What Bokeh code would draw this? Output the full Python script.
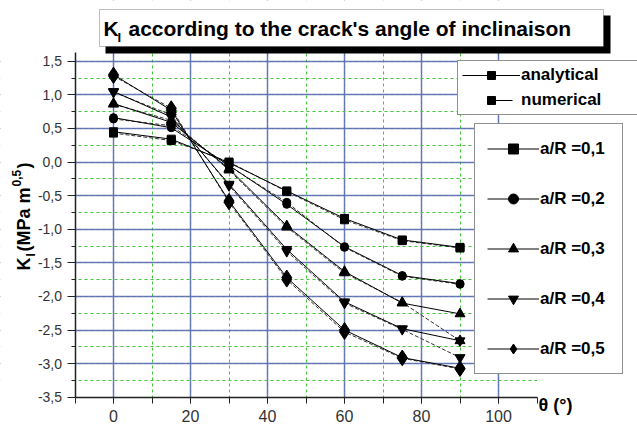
import math
from bokeh.plotting import figure
from bokeh.models import (Range1d, SingleIntervalTicker, CustomJSTickFormatter,
                          Legend, LegendItem, Label, BoxAnnotation)
from bokeh.embed import file_html
from bokeh.resources import INLINE

# ---------------- data ----------------
theta = [0, 15, 30, 45, 60, 75, 90]
ratio_labels = ["a/R =0,1", "a/R =0,2", "a/R =0,3", "a/R =0,4", "a/R =0,5"]

analytical_01 = [0.45, 0.34, -0.01, -0.43, -0.84, -1.16, -1.27]
analytical_02 = [0.66, 0.51, -0.05, -0.63, -1.26, -1.69, -1.81]
analytical_03 = [0.87, 0.59, -0.10, -0.95, -1.63, -2.10, -2.26]
analytical_04 = [1.05, 0.67, -0.33, -1.30, -2.08, -2.48, -2.66]
analytical_05 = [1.30, 0.77, -0.58, -1.72, -2.50, -2.91, -3.07]

numerical_01 = [0.43, 0.32, 0.00, -0.44, -0.86, -1.17, -1.28]
numerical_02 = [0.64, 0.54, -0.06, -0.60, -1.27, -1.70, -1.82]
numerical_03 = [0.86, 0.62, -0.12, -0.97, -1.65, -2.09, -2.66]
numerical_04 = [1.04, 0.70, -0.35, -1.33, -2.10, -2.49, -2.91]
numerical_05 = [1.28, 0.80, -0.60, -1.75, -2.53, -2.92, -3.08]

analytical = [analytical_01, analytical_02, analytical_03, analytical_04, analytical_05]
numerical = [numerical_01, numerical_02, numerical_03, numerical_04, numerical_05]

# axis extents
X_AXIS = (-10, 110)
Y_AXIS = (-3.5, 1.63)

# ---------------- layout (frame = whole canvas) ----------------
W, H = 637, 428
SX, SY = 3.85, 67.2                 # px per data unit
X0 = X_AXIS[0] - 74.5 / SX          # canvas left edge in data units
X1 = X0 + W / SX
Y0 = Y_AXIS[0] - (H - 396.7) / SY   # canvas bottom edge in data units
Y1 = Y0 + H / SY


def dx(px):
    return X0 + px / SX


def dy(py):
    return Y1 - py / SY


p = figure(width=W, height=H, x_range=Range1d(X0, X1), y_range=Range1d(Y0, Y1),
           output_backend="svg", toolbar_location=None,
           min_border_left=0, min_border_right=0, min_border_top=0, min_border_bottom=0)
p.outline_line_color = None
p.background_fill_color = "white"
p.border_fill_color = "white"

xt = SingleIntervalTicker(interval=20, num_minor_ticks=2)
yt = SingleIntervalTicker(interval=0.5, num_minor_ticks=2)
p.xaxis.ticker = xt
p.yaxis.ticker = yt
p.xgrid.ticker = xt
p.ygrid.ticker = yt
p.xaxis.fixed_location = Y_AXIS[0]
p.yaxis.fixed_location = X_AXIS[0]
p.xaxis.bounds = X_AXIS
p.yaxis.bounds = Y_AXIS
p.xgrid.bounds = (X_AXIS[0] + 1, X_AXIS[1] - 1)
p.ygrid.bounds = (Y_AXIS[0] + 0.1, Y_AXIS[1])

for g in (p.xgrid, p.ygrid):
    g.grid_line_color = "#5a6db5"
    g.grid_line_width = 1.5
    g.grid_line_alpha = 0.9
    g.minor_grid_line_color = "#44c43a"
    g.minor_grid_line_dash = "3 3"
    g.minor_grid_line_width = 1

# white masks restrict the grid to the axis box
for kw in (dict(right=X_AXIS[0]), dict(left=X_AXIS[1]),
           dict(bottom=Y_AXIS[1]), dict(top=Y_AXIS[0])):
    p.add_layout(BoxAnnotation(fill_color="white", fill_alpha=1, line_color=None,
                               level="underlay", **kw))

p.yaxis.formatter = CustomJSTickFormatter(code="return tick.toFixed(1).replace('.', ',');")
p.axis.axis_line_color = "#222222"
p.axis.axis_line_width = 1.5
p.axis.major_tick_line_color = "#222222"
p.axis.minor_tick_line_color = "#222222"
p.axis.major_tick_in = 0
p.axis.minor_tick_in = 0
p.xaxis.major_tick_out = 6
p.xaxis.minor_tick_out = 6
p.yaxis.major_tick_out = 8
p.yaxis.minor_tick_out = 4
p.axis.major_label_text_font = "Liberation Sans"
p.axis.major_label_text_color = "#333333"
p.xaxis.major_label_text_font_size = "16px"
p.yaxis.major_label_text_font_size = "14px"
p.yaxis.major_label_standoff = 5
p.xaxis.major_label_standoff = 7

# ---------------- series ----------------
markers = ["square", "circle", "triangle", "inverted_triangle", "diamond"]
sizes = [8, 8, 10, 10, 15]

n_lines, n_pts, a_lines, a_pts = [], [], [], []
for i in range(5):
    n_lines.append(p.line(theta, numerical[i], line_color="#333333", line_width=1, line_dash="4 2"))
    n_pts.append(p.scatter(theta, numerical[i], marker=markers[i], size=sizes[i], color="black"))
for i in range(5):
    a_lines.append(p.line(theta, analytical[i], line_color="black", line_width=1))
    a_pts.append(p.scatter(theta, analytical[i], marker=markers[i], size=sizes[i], color="black"))

# legend-only line sample for "numerical" (short stroke right of the marker)
no_values = [float("nan")] * len(theta)
numerical_key = p.line(theta, no_values, line_color="black", line_width=1,
                       line_dash="21 300", line_dash_offset=292)

legend_style = dict(border_line_color="#222222", border_line_width=1.5,
                    background_fill_color="white", background_fill_alpha=1,
                    label_text_font="Liberation Sans", label_text_font_style="bold",
                    label_text_font_size="17px", label_text_color="black", margin=0)

leg1 = Legend(items=[LegendItem(label="analytical", renderers=[a_lines[0], a_pts[0]]),
                     LegendItem(label="numerical", renderers=[numerical_key, n_pts[0]])],
              location=(457, H - 115), padding=4, spacing=5, glyph_width=58, glyph_height=20,
              label_height=20, label_standoff=1, label_width=120, **legend_style)
p.add_layout(leg1, "center")

leg2 = Legend(items=[LegendItem(label=ratio_labels[i], renderers=[a_lines[i], a_pts[i]]) for i in range(5)],
              location=(474, H - 374), padding=12, spacing=25, glyph_width=52, glyph_height=25,
              label_height=25, label_standoff=1, label_width=70, **legend_style)
p.add_layout(leg2, "center")

# ---------------- title box ----------------
p.add_layout(BoxAnnotation(left=dx(105), right=dx(610), top=dy(15), bottom=dy(53),
                           fill_color="black", fill_alpha=1, line_color=None))
p.add_layout(BoxAnnotation(left=dx(99), right=dx(603), top=dy(9), bottom=dy(46),
                           fill_color="white", fill_alpha=1, line_color="#222222", line_width=1))


def lab(x, y, text, size, angle=0.0, align="left", baseline="alphabetic"):
    p.add_layout(Label(x=x, y=y, text=text, angle=angle, text_align=align,
                       text_baseline=baseline, text_font="Liberation Sans",
                       text_font_style="bold", text_font_size=size, text_color="black"))


lab(dx(103), dy(28), "K", "21px")
lab(dx(117), dy(37), "I", "13px")
lab(dx(128), dy(28), "according to the crack's angle of inclinaison", "21px")

# y-axis label (rotated)
rot = math.pi / 2
lab(dx(23), dy(270), "K", "18px", angle=rot, baseline="middle")
lab(dx(30), dy(256), "I", "12px", angle=rot, baseline="middle")
lab(dx(23), dy(251), "(MPa m", "18px", angle=rot, baseline="middle")
lab(dx(15.5), dy(186), "0,5", "12px", angle=rot, baseline="middle")
lab(dx(23), dy(168), ")", "18px", angle=rot, baseline="middle")

# x-axis label
lab(dx(538), dy(404), "θ (°)", "18px", baseline="middle")

open("out.html", "w").write(file_html(p, INLINE))
